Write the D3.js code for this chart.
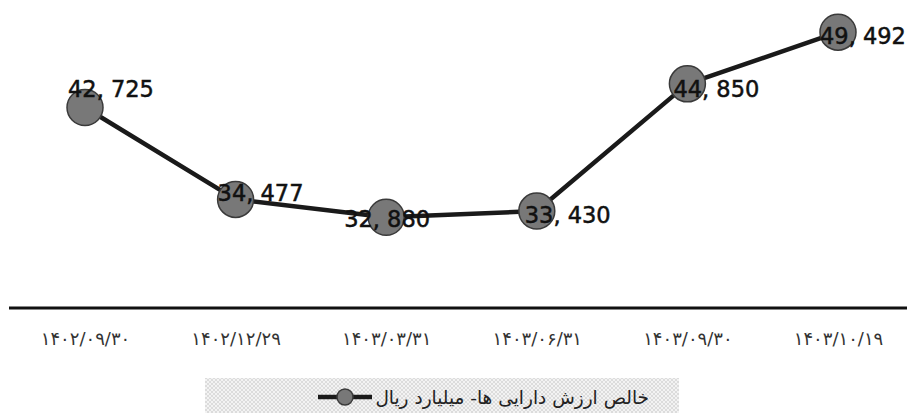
<!DOCTYPE html>
<html>
<head>
<meta charset="utf-8">
<script src="https://cdn.jsdelivr.net/npm/d3@7"></script>
<style>
  body { margin: 0; background: #ffffff; }
</style>
</head>
<body>
<div id="chart"></div>
<script>
let categories = ["۱۴۰۲/۰۹/۳۰", "۱۴۰۲/۱۲/۲۹", "۱۴۰۳/۰۳/۳۱", "۱۴۰۳/۰۶/۳۱", "۱۴۰۳/۰۹/۳۰", "۱۴۰۳/۱۰/۱۹"];
let values = [42725, 34477, 32880, 33430, 44850, 49492];
let valueLabels = ["42, 725", "34, 477", "32, 880", "33, 430", "44, 850", "49, 492"];
let seriesName = "خالص ارزش دارایی ها- میلیارد ریال";

function drawChart() {
  let width = 907;
  let height = 413;

  let svg = d3.select("#chart").append("svg")
    .attr("width", width)
    .attr("height", height);

  svg.append("rect")
    .attr("width", "100%")
    .attr("height", "100%")
    .attr("fill", "#ffffff");

  let x = d3.scalePoint()
    .domain(categories)
    .range([9.7, 913.3])
    .padding(0.5);

  let y = d3.scaleLinear()
    .domain([25000, 50000])
    .range([305, 26.5]);

  // axis along the bottom, no ticks
  let axis = svg.append("g")
    .attr("transform", "translate(0,308)")
    .call(d3.axisBottom(x).tickSize(0).tickPadding(24));

  axis.select(".domain")
    .attr("stroke", "#111")
    .attr("stroke-width", 3)
    .attr("d", "M9,0H" + width);

  axis.selectAll("text")
    .attr("font-family", "DejaVu Sans")
    .attr("font-size", 18)
    .attr("letter-spacing", 4)
    .attr("fill", "#333")
    .attr("direction", "ltr");

  let points = categories.map(function(c, i) {
    return [x(c), y(values[i])];
  });

  svg.append("path")
    .attr("d", d3.line()(points))
    .attr("fill", "none")
    .attr("stroke", "#1a1a1a")
    .attr("stroke-width", 4.5)
    .attr("stroke-linejoin", "round");

  svg.selectAll("circle.pt")
    .data(points)
    .join("circle")
    .attr("class", "pt")
    .attr("cx", d => d[0])
    .attr("cy", d => d[1])
    .attr("r", 18)
    .attr("fill", "#787878")
    .attr("stroke", "#3a3a3a")
    .attr("stroke-width", 1.5);

  // label nudges, picked by eye
  let labelOffsets = [[-17, -11], [-18, 2], [-42, 10], [-12, 12], [-14, 13], [-18, 12]];

  svg.selectAll("text.val")
    .data(points)
    .join("text")
    .attr("class", "val")
    .attr("x", (d, i) => d[0] + labelOffsets[i][0])
    .attr("y", (d, i) => d[1] + labelOffsets[i][1])
    .attr("font-family", "DejaVu Sans")
    .attr("font-size", 22.5)
    .attr("fill", "#111")
    .attr("stroke", "#111")
    .attr("stroke-width", 0.5)
    .text((d, i) => valueLabels[i]);

  // legend box with fine cross hatch
  let defs = svg.append("defs");
  let pat = defs.append("pattern")
    .attr("id", "hatch")
    .attr("width", 4)
    .attr("height", 4)
    .attr("patternUnits", "userSpaceOnUse");
  pat.append("rect")
    .attr("width", 4)
    .attr("height", 4)
    .attr("fill", "#f3f3f3");
  pat.append("path")
    .attr("d", "M0,0 L4,4 M4,0 L0,4")
    .attr("stroke", "#d6d6d6")
    .attr("stroke-width", 0.8);

  svg.append("rect")
    .attr("x", 205)
    .attr("y", 378)
    .attr("width", 474)
    .attr("height", 40)
    .attr("fill", "url(#hatch)");

  let legend = svg.append("g");
  legend.append("line")
    .attr("x1", 318)
    .attr("x2", 372)
    .attr("y1", 397)
    .attr("y2", 397)
    .attr("stroke", "#1a1a1a")
    .attr("stroke-width", 4.5);
  legend.append("circle")
    .attr("cx", 345)
    .attr("cy", 397)
    .attr("r", 8)
    .attr("fill", "#787878")
    .attr("stroke", "#3a3a3a")
    .attr("stroke-width", 1.5);
  legend.append("text")
    .attr("x", 649)
    .attr("y", 404)
    .attr("text-anchor", "start")
    .attr("direction", "rtl")
    .attr("font-family", "DejaVu Sans")
    .attr("font-size", 18.5)
    .attr("fill", "#222")
    .text(seriesName);
}

drawChart();
</script>
</body>
</html>
